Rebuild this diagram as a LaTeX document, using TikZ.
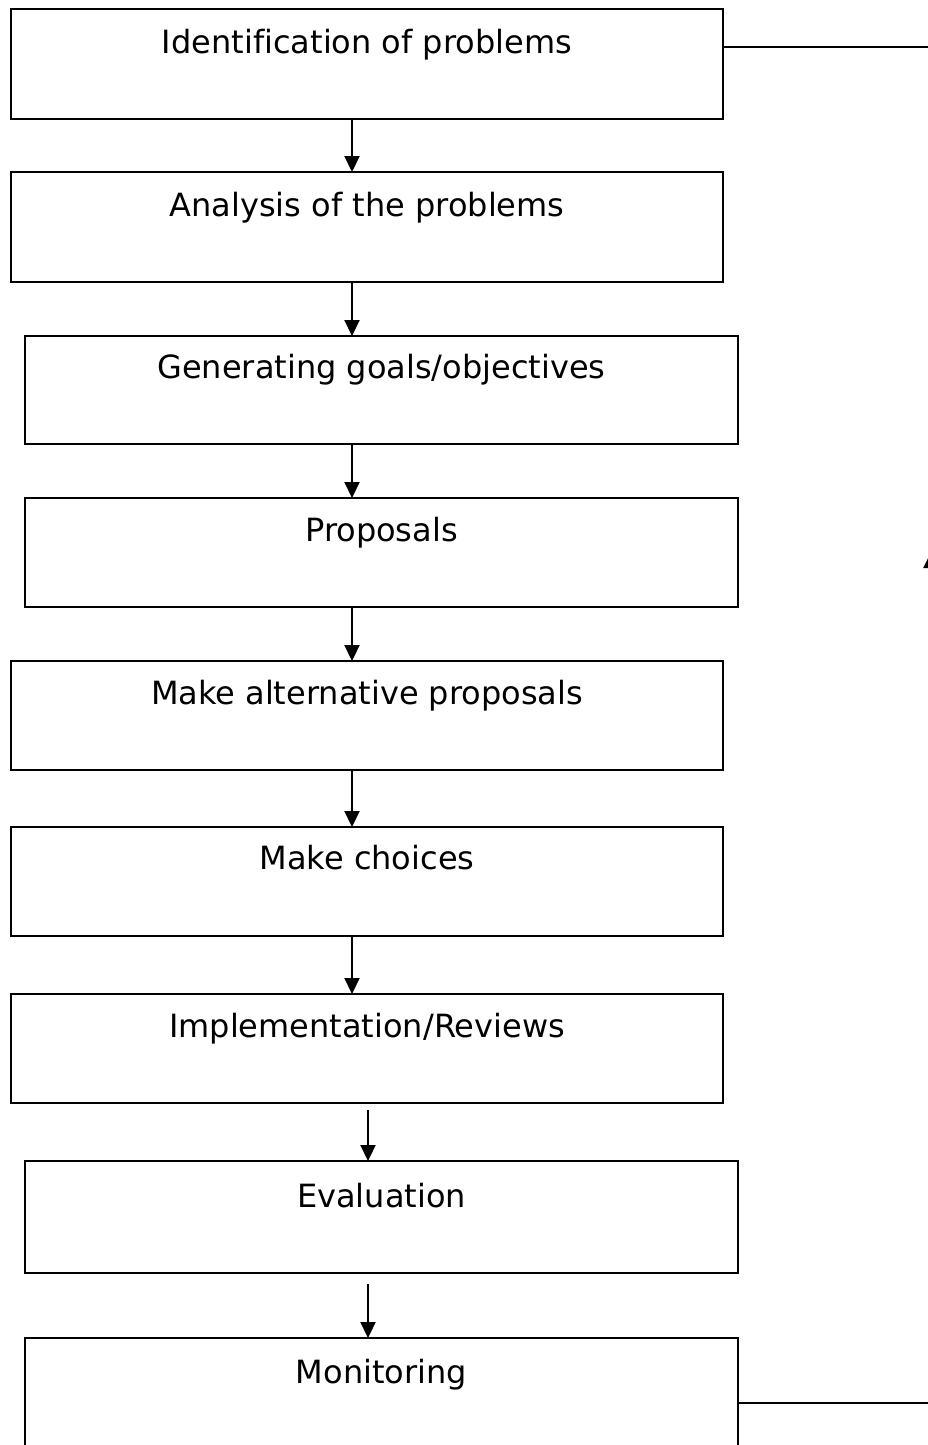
\documentclass[tikz,border=0pt]{standalone}
\usepackage{fontspec}
\setmainfont[Ligatures=NoCommon]{DejaVu Sans}
\usetikzlibrary{arrows.meta}
\begin{document}
\begin{tikzpicture}[x=1pt,y=-1pt,
  box/.style={draw,line width=2.2pt,rectangle,minimum width=712pt,anchor=north west,inner sep=0pt,outer sep=0pt},
  lbl/.style={anchor=base,inner sep=0pt,font=\fontsize{32}{38}\selectfont},
  arr/.style={line width=2.2pt,-{Triangle[width=15pt,length=16pt]}},
  link/.style={line width=2.2pt}]
\useasboundingbox (0,0) rectangle (928,1445);
\clip (0,0) rectangle (928,1445);
\node[box,minimum height=110pt] (b1) at (11,9) {};
\node[box,minimum height=110pt] (b2) at (11,172) {};
\node[box,minimum width=713pt,minimum height=108pt] (b3) at (25,336) {};
\node[box,minimum width=713pt,minimum height=109pt] (b4) at (25,498) {};
\node[box,minimum height=109pt] (b5) at (11,661) {};
\node[box,minimum height=109pt] (b6) at (11,827) {};
\node[box,minimum height=109pt] (b7) at (11,994) {};
\node[box,minimum width=713pt,minimum height=112pt] (b8) at (25,1161) {};
\node[box,minimum width=713pt,minimum height=140pt] (b9) at (25,1338) {};
\node[lbl] (t1) at ([yshift=-44pt]b1.north) {Identification of problems};
\node[lbl] (t2) at ([yshift=-44pt]b2.north) {Analysis of the problems};
\node[lbl] (t3) at ([yshift=-42pt]b3.north) {Generating goals/objectives};
\node[lbl] (t4) at ([yshift=-43pt]b4.north) {Proposals};
\node[lbl] (t5) at ([yshift=-43pt]b5.north) {Make alternative proposals};
\node[lbl] (t6) at ([yshift=-42pt]b6.north) {Make choices};
\node[lbl] (t7) at ([yshift=-43pt]b7.north) {Implementation/Reviews};
\node[lbl] (t8) at ([yshift=-46pt]b8.north) {Evaluation};
\node[lbl] (t9) at ([yshift=-45pt]b9.north) {Monitoring};
\coordinate (ax1) at (352,0);
\coordinate (ax2) at (368,0);
\draw[arr] (b1.south -| ax1) -- (b2.north -| ax1);
\draw[arr] (b2.south -| ax1) -- (b3.north -| ax1);
\draw[arr] (b3.south -| ax1) -- (b4.north -| ax1);
\draw[arr] (b4.south -| ax1) -- (b5.north -| ax1);
\draw[arr] (b5.south -| ax1) -- (b6.north -| ax1);
\draw[arr] (b6.south -| ax1) -- (b7.north -| ax1);
\draw[arr] ([yshift=-7pt]b7.south -| ax2) -- (b8.north -| ax2);
\draw[arr] ([yshift=-11pt]b8.south -| ax2) -- (b9.north -| ax2);
\coordinate (r1) at (931,47);
\coordinate (r2) at (931,1403);
\coordinate (rm) at (931,552);
\draw[link] (b1.east |- r1) -- (r1) -- (rm);
\draw[arr] (b9.east |- r2) -- (r2) -- (rm);
\end{tikzpicture}
\end{document}
